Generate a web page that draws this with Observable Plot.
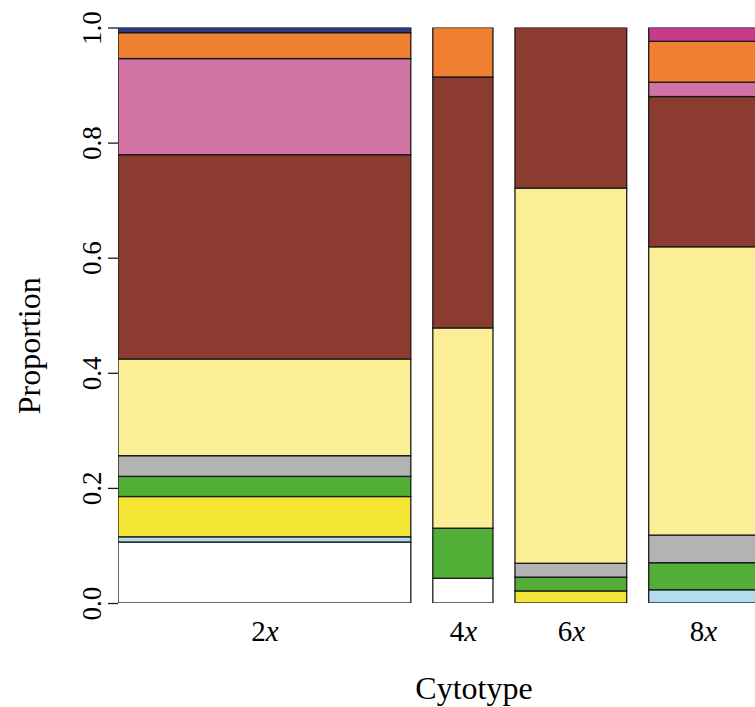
<!DOCTYPE html>
<html><head><meta charset="utf-8">
<script src="https://cdn.jsdelivr.net/npm/d3@7"></script>
<script src="https://cdn.jsdelivr.net/npm/@observablehq/plot@0.6"></script>
<style>html,body{margin:0;padding:0;background:#fff;overflow:hidden}</style>
</head><body><div id="chart"></div>
<script>
// ---- data ----
const cytotypes = ["2x", "4x", "6x", "8x"];
// relative share of samples (bar widths of the spine plot)
const sampleShare = [0.511, 0.105, 0.195, 0.189];
// genetic groups, stacked bottom to top
const groups = ["G1", "G2", "G3", "G4", "G5", "G6", "G7", "G8", "G9", "G10", "G11"];
const groupColors = ["#FFFFFF", "#B2DDEC", "#F5E535", "#52AE36", "#B3B3B3", "#FBEE94",
                     "#8B3B2F", "#D273A5", "#F08031", "#2E3A82", "#C43B8A"];
// proportions per cytotype (same order as groups)
const prop2x = [0.106, 0.009, 0.070, 0.035, 0.036, 0.168, 0.355, 0.167, 0.045, 0.009, 0];
const prop4x = [0.043, 0, 0, 0.087, 0, 0.348, 0.436, 0, 0.086, 0, 0];
const prop6x = [0, 0, 0.021, 0.024, 0.024, 0.652, 0.279, 0, 0, 0, 0];
const prop8x = [0, 0.023, 0, 0.047, 0.048, 0.501, 0.261, 0.025, 0.071, 0, 0.024];
const yTicks = [0, 0.2, 0.4, 0.6, 0.8, 1.0];

// ---- layout constants ----
const gapShare = 0.0384;     // space between bars
const xVisible = 1.1117;     // visible part of the x extent (last bar is cut off)
const FONT = "'Liberation Serif', 'Times New Roman', serif";

// ---- build table ----
const props = [prop2x, prop4x, prop6x, prop8x];
const bars = [];
const rows = [];
let cum = 0;
cytotypes.forEach((c, i) => {
  const x1 = cum, x2 = cum + sampleShare[i];
  bars.push({name: c, x1, x2, xMid: (x1 + x2) / 2});
  let y = 0;
  props[i].forEach((p, g) => {
    if (p > 0) rows.push({cytotype: c, group: groups[g], x1, x2, y1: y, y2: y + p});
    y += p;
  });
  cum = x2 + gapShare;
});

const chart = Plot.plot({
  width: 755,
  height: 707,
  marginTop: 27.5,
  marginBottom: 104,
  marginLeft: 118,
  marginRight: 0,
  style: {fontFamily: FONT, background: "white", color: "#000"},
  x: {domain: [0, xVisible], axis: null},
  y: {domain: [0, 1], axis: null},
  color: {domain: groups, range: groupColors},
  marks: [
    Plot.rect(rows, {x1: "x1", x2: "x2", y1: "y1", y2: "y2", fill: "group",
                     stroke: "#1a1a1a", strokeWidth: 1.3, clip: true}),
    Plot.axisY({ticks: yTicks, tickSize: 10, tickFormat: () => "", label: null,
                stroke: "#1a1a1a", strokeWidth: 1.3}),
    Plot.text(yTicks, {y: d => d, text: d => d.toFixed(1), frameAnchor: "left",
                       rotate: -90, lineAnchor: "bottom", textAnchor: "middle",
                       dx: -18, fontSize: 27, fill: "#000"}),
    Plot.text(bars, {x: "xMid", text: "name", frameAnchor: "bottom", lineAnchor: "top",
                     textAnchor: "middle", dy: 17, fontSize: 29, fill: "#000"}),
    Plot.text(["Cytotype"], {frameAnchor: "bottom", lineAnchor: "top", textAnchor: "middle",
                             dx: 37, dy: 73, fontSize: 32, fill: "#000"}),
    Plot.text(["Proportion"], {frameAnchor: "left", rotate: -90, lineAnchor: "top",
                               textAnchor: "middle", dx: -101, dy: 30, fontSize: 32, fill: "#000"})
  ]
});

// italic "x" in the cytotype labels
const NS = "http://www.w3.org/2000/svg";
chart.querySelectorAll("text").forEach(t => {
  const m = t.textContent.match(/^(\d+)(x)$/);
  if (!m) return;
  t.textContent = "";
  const a = document.createElementNS(NS, "tspan");
  a.textContent = m[1];
  const b = document.createElementNS(NS, "tspan");
  b.setAttribute("font-style", "italic");
  b.textContent = m[2];
  t.append(a, b);
});

document.getElementById("chart").append(chart);
</script>
</body></html>
